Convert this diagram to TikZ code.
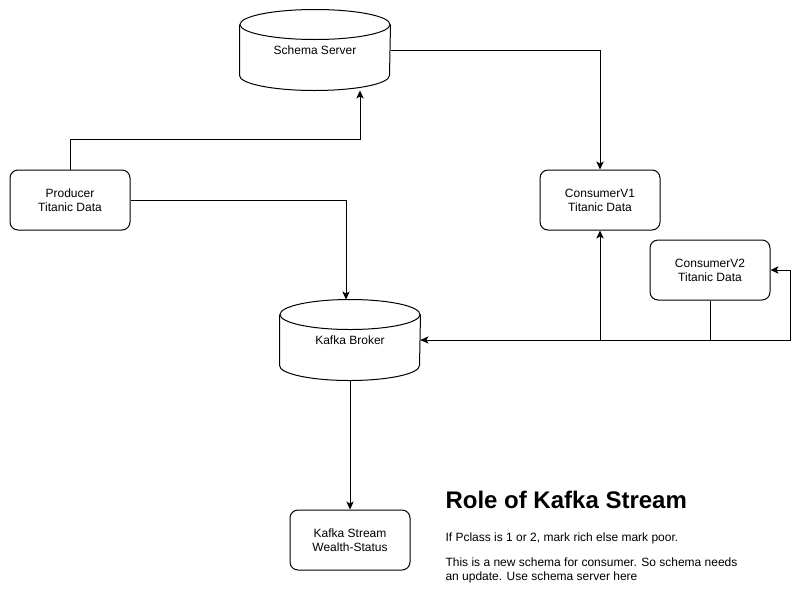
\documentclass[tikz,border=0pt]{standalone}
\usepackage{fontspec}
\setmainfont{Liberation Sans}
\usetikzlibrary{arrows.meta}

\tikzset{every picture/.style={line width=0.75pt}}
\tikzset{
  stepbox/.style={draw, rounded corners=6pt, minimum width=90pt, minimum height=45pt,
    align=center, inner sep=0.75pt, font=\fontsize{9}{10.5}\selectfont},
  store/.style={minimum height=60pt, inner sep=0.75pt, font=\fontsize{9}{10.5}\selectfont},
  flow/.style={-{Stealth[length=6pt,width=5.5pt,inset=1.5pt]}},
}
% outline of a can round a named node: #1 node, #2 half width
\newcommand{\drawcan}[2]{%
  \draw ([yshift=11.25pt]#1.north) ellipse [x radius=#2, y radius=11.25pt];
  \draw ([yshift=11.25pt]#1.north west) -- ([yshift=-11.25pt]#1.south west)
    arc [start angle=180, end angle=0, x radius=#2, y radius=11.25pt]
    -- ([yshift=11.25pt]#1.north east);
}

\begin{document}
\begin{tikzpicture}[x=0.75pt,y=0.75pt,yscale=-1,xscale=1]
\useasboundingbox (0,0) rectangle (809,611);

%Shape: Can [id:schema]
\node [store, minimum width=112.5pt] (schema) at (315,50) {Schema Server};
\drawcan{schema}{56.25pt}
%Shape: Can [id:broker]
\node [store, minimum width=105pt] (broker) at (350,340) {Kafka Broker};
\drawcan{broker}{52.5pt}

%Shape: Rectangle [id:producer]
\node [stepbox] (producer) at (70,200) {Producer\\Titanic Data};
%Shape: Rectangle [id:consumer1]
\node [stepbox] (consumer1) at (600,200) {ConsumerV1\\Titanic Data};
%Shape: Rectangle [id:consumer2]
\node [stepbox] (consumer2) at (710,270) {ConsumerV2\\Titanic Data};
%Shape: Rectangle [id:stream]
\node [stepbox] (stream) at (350,540) {Kafka Stream\\Wealth-Status};

%Straight Lines
\draw [flow] (producer.north) -- ++(0,-30) -| ([xshift=33.75pt]schema.south);
\draw [flow] (schema.east) -| (consumer1.north);
\draw [flow] (producer.east) -| ([xshift=-3pt]broker.north);
\draw [flow] (broker.south) -- (stream.north);
\draw [flow] (broker.east) -| (consumer1.south);
\draw [flow] (consumer2.south) |- (broker.east);
\draw [flow] (broker.east) -- ++(370,0) |- (consumer2.east);

% Text Node
\node [anchor=base west, inner sep=0pt, font=\fontsize{18}{21.6}\selectfont\bfseries] (title) at (445,508) {Role of Kafka Stream};
% Text Node
\node [anchor=base west, inner sep=0pt, font=\fontsize{9}{10.5}\selectfont] (rule) at (445,541) {If Pclass is 1 or 2, mark rich else mark poor.};
% Text Node
\node [anchor=base west, inner sep=0pt, font=\fontsize{9}{10.5}\selectfont, align=left] (note) at (445,580.5) {This is a new schema for consumer. So schema needs\\an update. Use schema server here};

\end{tikzpicture}
\end{document}
